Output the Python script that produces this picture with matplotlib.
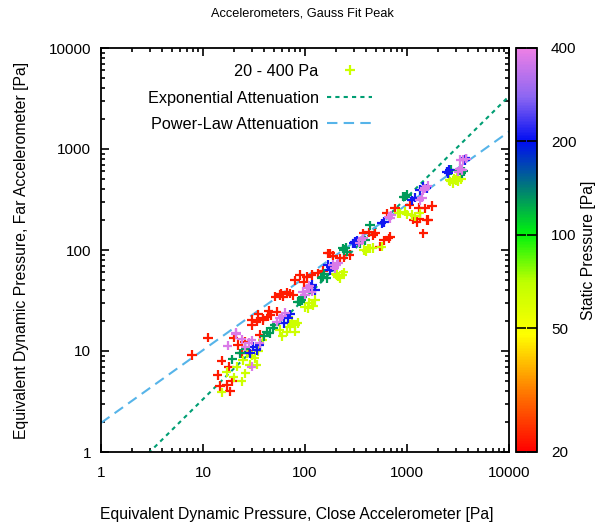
import numpy as np
import matplotlib
matplotlib.use("Agg")
import matplotlib.pyplot as plt
from matplotlib.colors import LinearSegmentedColormap, LogNorm
from matplotlib.lines import Line2D
from matplotlib.ticker import FixedLocator, NullLocator, LogLocator, NullFormatter, FixedFormatter

plt.rcParams['font.family'] = ['Liberation Sans', 'DejaVu Sans']
plt.rcParams['font.size'] = 11.3

# ---- data: (close, far) equivalent dynamic pressure [Pa], grouped by static pressure ----
red_x = [7.8, 11.2, 15.2, 13.9, 14.7, 18.4, 19.4, 18, 20, 25.8, 36, 38.6, 33.6, 43, 38.6, 30, 35,
         52.7, 46, 71, 61, 76, 56.6, 51, 66, 89.6, 116, 104, 98, 133, 168, 176, 220, 190, 275, 240,
         373, 467, 490, 660, 540, 680, 763, 631, 1060, 1500, 1760, 1445, 1240, 1620, 1570, 1330,
         28, 22, 24, 44, 58, 80, 150, 420, 590, 1150, 1300, 30, 17]
red_y = [9.1, 13.5, 8.0, 5.8, 4.5, 4.0, 5.0, 7.0, 13.5, 12.4, 14.4, 20.3, 19.5, 21.8, 21, 18, 23,
         24.5, 22.7, 37.3, 34.5, 35.8, 35.8, 34.5, 38, 56.5, 56.5, 54.5, 48, 58.8, 92.7, 92.7, 82.5, 88, 89, 84,
         146, 140, 146, 130, 108, 135, 259, 230, 280, 259, 272, 146, 190, 198, 198, 205,
         10, 11.5, 9.5, 25, 37, 50, 62, 150, 125, 200, 260, 20.5, 4.6]
red_p = [22] * len(red_x)

yel_x = [15.2, 17, 38.6, 33.6, 24.7, 28.9, 21.4, 23.9, 20, 30, 26, 35, 71, 79.6, 66, 56.6, 79.6, 60, 75,
         116, 108, 125, 110, 205, 220, 210, 230, 415, 435, 400, 565, 860, 1110, 1330, 820, 950,
         2600, 3190, 3000, 2650, 3400, 2800,
         32, 27, 85, 68, 120, 100, 240, 200, 460, 380, 1000, 1200, 2900, 3100]
yel_y = [3.9, 6.2, 12.8, 7.3, 8.1, 7.3, 7.0, 5.0, 5.5, 9, 6, 10, 17.4, 18.1, 15.5, 16.1, 15.5, 14, 20,
         29.7, 26.5, 32, 30, 56.5, 52.6, 54.5, 57, 103.5, 104, 98, 108, 230, 222, 230, 230, 240,
         493, 478, 493, 478, 500, 460,
         8.5, 9.5, 19, 19, 28, 27, 60, 58, 105, 100, 225, 215, 510, 530]
yel_p = [65] * len(yel_x)

grn_x = [19.4, 23, 42, 48.5, 45, 40, 85, 92.6, 89.6, 150, 163, 145, 256, 235, 240, 345, 435,
         920, 955, 2540, 3430, 3300, 26, 50, 95, 155, 250, 390, 1000, 2700, 3600]
grn_y = [8.3, 9.5, 15.5, 16.9, 15, 14, 30.8, 32, 30.8, 54.5, 52.6, 52.6, 96, 103.5, 100, 116, 176,
         337, 337, 590, 574, 610, 10.5, 18, 34, 58, 105, 125, 350, 620, 600]
grn_p = [130] * len(grn_x)

blu_x = [28.9, 33.6, 31, 68, 62, 111, 125, 176, 168, 297, 310, 310, 565, 1110, 1330, 1560,
         2540, 2450, 3760, 36, 72, 118, 180, 320, 600, 1200, 1450, 3700, 2600]
blu_y = [9.5, 10.2, 11, 21, 19, 43.3, 40.3, 63.5, 70.9, 116, 121, 116, 184, 311, 393, 408,
         574, 596, 809, 11.5, 23, 45, 68, 125, 190, 330, 420, 780, 620]
blu_p = [210] * len(blu_x)

vio_x = [17.5, 21, 21, 30, 36, 30, 26, 56.6, 52.7, 60, 104, 95.4, 116, 100, 205, 188, 195,
         359, 340, 660, 680, 1330, 1445, 1500, 3565, 3340, 3190, 3500,
         24, 28, 64, 110, 210, 370, 700, 1400, 1600, 3800, 3300]
vio_y = [11.3, 14.7, 15.1, 7.0, 12, 12.8, 11, 21, 19.5, 22, 41.8, 38.7, 38.7, 36, 70.9, 70.9, 66,
         125, 118, 214, 206, 311, 393, 408, 778, 778, 596, 620,
         13, 12, 24, 44, 74, 130, 220, 330, 430, 800, 640]
vio_p = [370] * len(vio_x)

# fit parameters
EXP_FACTOR = 1 / 3.0          # exponential attenuation: far = close * factor
PL_COEF, PL_EXP = 1.94, 0.721  # power-law attenuation: far = coef * close**exp

cb_ticks = [20, 50, 100, 200, 400]
ax_ticks = [1, 10, 100, 1000, 10000]

# ---- figure ----
W, H = 596, 522
fig = plt.figure(figsize=(W / 100, H / 100), dpi=100)
ax = fig.add_axes([101 / W, 1 - 452 / H, 408 / W, 404 / H])

cmap = LinearSegmentedColormap.from_list(
    'gp', [(0.0, (1.0, 0.0, 0.0)), (0.14, (1.0, 0.45, 0.0)), (0.29, (1.0, 1.0, 0.0)),
           (0.42, (0.75, 1.0, 0.0)), (0.54, (0.0, 0.95, 0.05)), (0.65, (0.0, 0.5, 0.45)),
           (0.77, (0.0, 0.05, 0.95)), (0.88, (0.55, 0.4, 0.95)), (1.0, (0.93, 0.5, 0.9))])
norm = LogNorm(20, 400)

xs = np.array(red_x + yel_x + grn_x + blu_x + vio_x)
ys = np.array(red_y + yel_y + grn_y + blu_y + vio_y)
ps = np.array(red_p + yel_p + grn_p + blu_p + vio_p)
sc = ax.scatter(xs, ys, c=ps, cmap=cmap, norm=norm, marker='+', s=45, linewidths=1.6, zorder=3)

xl = np.logspace(0, 4, 200)
ax.plot(xl, xl * EXP_FACTOR, color='#009e73', lw=1.5, dashes=(2, 2), zorder=2)
ax.plot(xl, PL_COEF * xl ** PL_EXP, color='#56b4e9', lw=1.5, dashes=(5, 3), zorder=2)

ax.set_xscale('log')
ax.set_yscale('log')
ax.set_xlim(1, 10000)
ax.set_ylim(1, 10000)
for axis in (ax.xaxis, ax.yaxis):
    axis.set_major_locator(FixedLocator(ax_ticks))
    axis.set_major_formatter(FixedFormatter([str(t) for t in ax_ticks]))
    axis.set_minor_locator(LogLocator(base=10, subs=np.arange(2, 10)))
    axis.set_minor_formatter(NullFormatter())
ax.tick_params(which='both', direction='in', top=True, right=True, width=1.2, labelsize=11)
ax.tick_params(which='major', length=6, pad=7)
ax.tick_params(which='minor', length=3)
ax.tick_params(axis='x', which='major', pad=10)
for s in ax.spines.values():
    s.set_linewidth(1.3)

ax.set_xlabel('Equivalent Dynamic Pressure, Close Accelerometer [Pa]', labelpad=18)
ax.xaxis.set_label_coords(0.48, -0.135)
ax.set_ylabel('Equivalent Dynamic Pressure, Far Accelerometer [Pa]', labelpad=14)
fig.text(0.507, 1 - 14 / H, 'Accelerometers, Gauss Fit Peak', ha='center', va='center', fontsize=9.2)

handles = [Line2D([], [], ls='none', marker='+', color=(0.8, 1.0, 0.0), ms=7, mew=1.6),
           Line2D([], [], color='#009e73', lw=1.5, dashes=(2, 2)),
           Line2D([], [], color='#56b4e9', lw=1.5, dashes=(5, 3))]
labels = ['20 - 400 Pa', 'Exponential Attenuation', 'Power-Law Attenuation']
ax.legend(handles, labels, loc='upper right', bbox_to_anchor=(0.665, 0.96), frameon=False,
          markerfirst=False, handlelength=2.8, handletextpad=0.5, labelspacing=0.7,
          borderaxespad=0, borderpad=0, fontsize=11.7)

cax = fig.add_axes([516 / W, 1 - 452 / H, 21 / W, 404 / H])
cb = fig.colorbar(sc, cax=cax)
cb.set_ticks(cb_ticks)
cb.set_ticklabels([str(t) for t in cb_ticks])
cax.yaxis.set_minor_locator(NullLocator())
cax.tick_params(which='major', direction='in', left=True, right=True, length=7, width=1.2, pad=10,
                labelsize=11)
cb.outline.set_linewidth(1.3)
cb.set_label('Static Pressure [Pa]', labelpad=3)

fig.savefig('out.png', dpi=100)
